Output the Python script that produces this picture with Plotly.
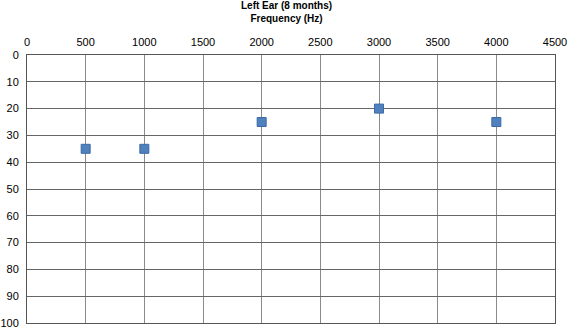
import plotly.graph_objects as go

frequency_hz = [500, 1000, 2000, 3000, 4000]
threshold_db = [35, 35, 25, 20, 25]
x_ticks = [0, 500, 1000, 1500, 2000, 2500, 3000, 3500, 4000, 4500]
y_ticks = [0, 10, 20, 30, 40, 50, 60, 70, 80, 90, 100]

fig = go.Figure()
fig.add_trace(go.Scatter(
    x=frequency_hz, y=threshold_db, mode="markers",
    marker=dict(symbol="square", size=9, color="#4F81BD",
                line=dict(color="#3C6AA6", width=1)),
    showlegend=False,
))

fig.update_layout(
    width=568, height=334,
    margin=dict(l=27, r=13, t=55, b=11),
    paper_bgcolor="white", plot_bgcolor="white",
    font=dict(family="Liberation Sans, Arial, sans-serif", size=11, color="black"),
    annotations=[dict(
        text="<b>Left Ear (8 months)<br>Frequency (Hz)</b>",
        xref="paper", yref="paper", x=0.5, y=1, xanchor="center", yanchor="bottom",
        xshift=-5, yshift=29, showarrow=False, font=dict(size=10), align="center",
    )],
)
fig.update_xaxes(
    side="top", range=[0, 4500], tickvals=x_ticks, ticktext=[str(v) for v in x_ticks],
    showgrid=True, gridcolor="#8a8a8a", gridwidth=1,
    showline=True, linecolor="#555555", linewidth=1, mirror=True,
    zeroline=False, ticks="", ticklabelstandoff=4, automargin=False,
)
fig.update_yaxes(
    range=[100, 0], tickvals=y_ticks, ticktext=[str(v) for v in y_ticks],
    showgrid=True, gridcolor="#666666", gridwidth=1,
    showline=True, linecolor="#555555", linewidth=1, mirror=True,
    zeroline=False, ticks="", ticklabelstandoff=5, automargin=False,
)
fig.write_html("out.html", config={"displayModeBar": False},
               post_script="document.body.style.margin='0';document.body.style.overflow='hidden';")
